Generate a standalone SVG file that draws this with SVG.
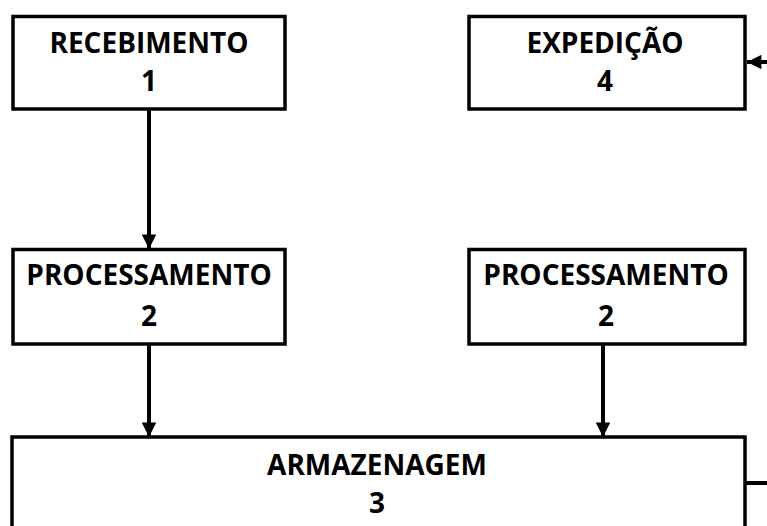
<svg xmlns="http://www.w3.org/2000/svg" width="767" height="526" viewBox="0 0 767 526">
<style>
.box{fill:#fff;stroke:#000;stroke-width:3.5}
.t{font-family:"Open Sans","Liberation Sans",sans-serif;font-weight:bold;font-size:28px;text-anchor:middle;fill:#000}
.c{fill:none;stroke:#000;stroke-width:4}
</style>
<defs>
<marker id="ah" viewBox="0 0 10 10" refX="10" refY="5" markerWidth="4" markerHeight="3.6" markerUnits="strokeWidth" orient="auto">
<path d="M0,0 L10,5 L0,10 z" fill="#000"/>
</marker>
</defs>
<rect width="767" height="526" fill="#fff"/>
<g id="connectors">
<line class="c" x1="149" y1="109" x2="149" y2="249" marker-end="url(#ah)"/>
<line class="c" x1="149" y1="344" x2="149" y2="437" marker-end="url(#ah)"/>
<line class="c" x1="603" y1="344" x2="603" y2="437" marker-end="url(#ah)"/>
<path class="c" d="M745,483 H775 V62 H747" marker-end="url(#ah)"/>
</g>
<g id="n1">
<rect class="box" x="13" y="16.5" width="272" height="92.5"/>
<text class="t" x="149" y="53">RECEBIMENTO</text>
<text class="t" x="149" y="91">1</text>
</g>
<g id="n4">
<rect class="box" x="469" y="16.5" width="276" height="92.5"/>
<text class="t" x="605" y="53">EXPEDIÇÃO</text>
<text class="t" x="605" y="91">4</text>
</g>
<g id="n2a">
<rect class="box" x="13" y="249.5" width="272" height="94.5"/>
<text class="t" x="149" y="285">PROCESSAMENTO</text>
<text class="t" x="149" y="326">2</text>
</g>
<g id="n2b">
<rect class="box" x="469" y="249.5" width="276" height="94.5"/>
<text class="t" x="606" y="285">PROCESSAMENTO</text>
<text class="t" x="606" y="326">2</text>
</g>
<g id="n3">
<rect class="box" x="12" y="437" width="733" height="110"/>
<text class="t" x="377" y="475">ARMAZENAGEM</text>
<text class="t" x="377" y="513">3</text>
</g>
</svg>
